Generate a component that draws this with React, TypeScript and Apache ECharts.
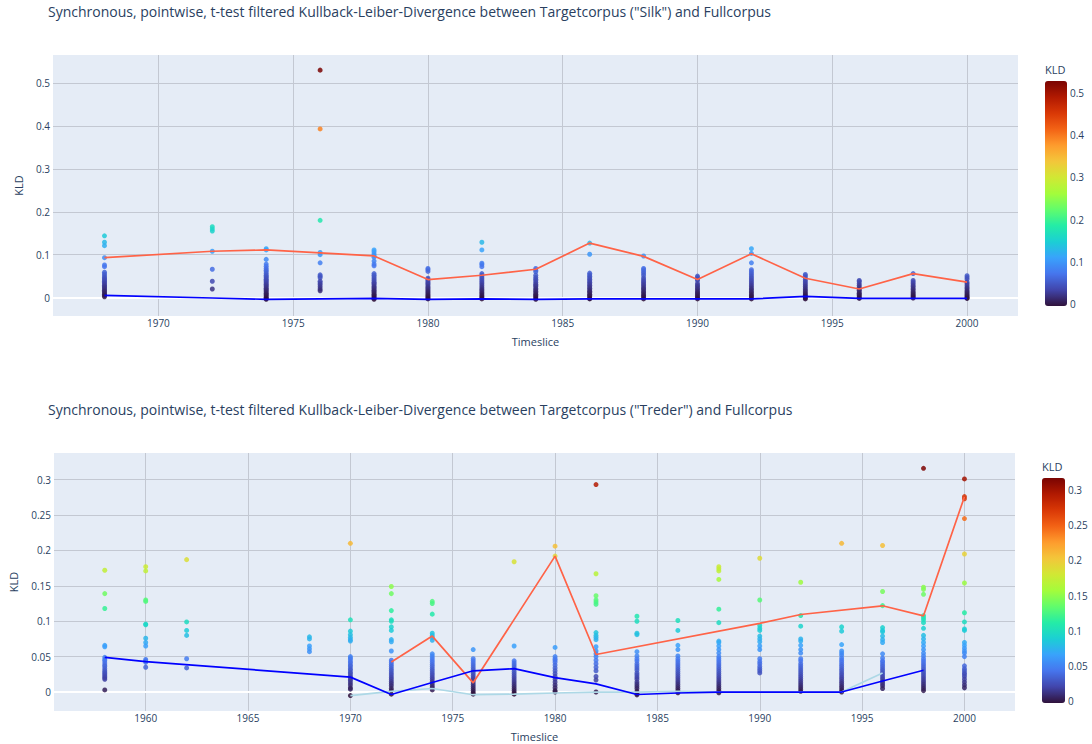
import React, { useEffect, useRef } from "react";
import * as echarts from "echarts";

// ---------- Data: "Silk" ----------
const silkTitle =
  'Synchronous, pointwise, t-test filtered Kullback-Leiber-Divergence between Targetcorpus ("Silk") and Fullcorpus';
const silkYears = [1968, 1972, 1974, 1976, 1978, 1980, 1982, 1984, 1986, 1988, 1990, 1992, 1994, 1996, 1998, 2000];
const silkKld: number[][] = [
  [0.144, 0.129, 0.121, 0.093, 0.076, 0.072, 0.059, 0.055, 0.051, 0.047, 0.044, 0.041, 0.038, 0.035, 0.032, 0.029, 0.026, 0.023, 0.02, 0.017, 0.014, 0.011, 0.008, 0.005, 0.002],
  [0.165, 0.16, 0.155, 0.108, 0.066, 0.038, 0.02],
  [0.114, 0.111, 0.089, 0.078, 0.073, 0.068, 0.064, 0.06, 0.056, 0.052, 0.049, 0.046, 0.043, 0.04, 0.037, 0.034, 0.031, 0.028, 0.025, 0.022, 0.019, 0.016, 0.013, 0.01, 0.007, 0.004, 0.001, -0.002, -0.004],
  [0.53, 0.393, 0.18, 0.105, 0.1, 0.081, 0.053, 0.05, 0.046, 0.038, 0.034, 0.03, 0.025, 0.02, 0.016],
  [0.111, 0.107, 0.102, 0.098, 0.094, 0.085, 0.078, 0.074, 0.056, 0.052, 0.048, 0.044, 0.04, 0.036, 0.033, 0.03, 0.026, 0.023, 0.02, 0.017, 0.014, 0.011, 0.008, 0.005, 0.002, -0.001, -0.004],
  [0.068, 0.065, 0.061, 0.045, 0.042, 0.039, 0.036, 0.033, 0.03, 0.026, 0.023, 0.02, 0.017, 0.014, 0.011, 0.008, 0.005, 0.002, -0.001, -0.003],
  [0.129, 0.111, 0.08, 0.077, 0.072, 0.056, 0.052, 0.048, 0.044, 0.04, 0.036, 0.032, 0.028, 0.024, 0.02, 0.017, 0.013, 0.01, 0.006, 0.003, 0, -0.003],
  [0.068, 0.064, 0.06, 0.052, 0.047, 0.043, 0.039, 0.035, 0.031, 0.028, 0.025, 0.021, 0.018, 0.015, 0.011, 0.008, 0.005, 0.002, -0.001, -0.004],
  [0.127, 0.101, 0.057, 0.053, 0.05, 0.046, 0.043, 0.039, 0.036, 0.032, 0.029, 0.025, 0.022, 0.018, 0.015, 0.012, 0.008, 0.005, 0.002, -0.002, -0.003],
  [0.097, 0.068, 0.065, 0.061, 0.057, 0.052, 0.046, 0.042, 0.038, 0.035, 0.031, 0.028, 0.024, 0.021, 0.018, 0.014, 0.011, 0.007, 0.004, 0.001, -0.003],
  [0.05, 0.047, 0.043, 0.04, 0.033, 0.029, 0.026, 0.022, 0.019, 0.015, 0.012, 0.009, 0.006, 0.003, 0, -0.003],
  [0.114, 0.103, 0.081, 0.065, 0.061, 0.057, 0.053, 0.049, 0.045, 0.041, 0.037, 0.033, 0.029, 0.025, 0.021, 0.018, 0.014, 0.011, 0.007, 0.004, 0.001, -0.003],
  [0.054, 0.051, 0.047, 0.042, 0.038, 0.034, 0.03, 0.026, 0.022, 0.018, 0.015, 0.011, 0.008, 0.005, 0.002, -0.001, -0.003],
  [0.04, 0.037, 0.032, 0.028, 0.024, 0.02, 0.017, 0.013, 0.01, 0.007, 0.004, 0.001, -0.002],
  [0.056, 0.04, 0.036, 0.032, 0.028, 0.025, 0.021, 0.018, 0.014, 0.011, 0.008, 0.005, 0.002, -0.001],
  [0.051, 0.047, 0.043, 0.036, 0.032, 0.028, 0.024, 0.021, 0.017, 0.014, 0.011, 0.008, 0.005, 0.002, -0.001, -0.002],
];
const silkRedLine = [0.093, 0.108, 0.111, 0.104, 0.097, 0.042, 0.052, 0.066, 0.127, 0.096, 0.042, 0.102, 0.045, 0.02, 0.056, 0.036];
const silkBlueLine = [0.005, -0.001, -0.004, -0.003, -0.002, -0.004, -0.003, -0.004, -0.003, -0.003, -0.003, -0.003, 0.003, -0.002, -0.002, -0.002];
const silkColorMin = -0.004;
const silkColorMax = 0.5276;

// ---------- Data: "Treder" ----------
const trederTitle =
  'Synchronous, pointwise, t-test filtered Kullback-Leiber-Divergence between Targetcorpus ("Treder") and Fullcorpus';
const trederYears = [1958, 1960, 1962, 1968, 1970, 1972, 1974, 1976, 1978, 1980, 1982, 1984, 1986, 1988, 1990, 1992, 1994, 1996, 1998, 2000];
const trederKld: number[][] = [
  [0.172, 0.139, 0.118, 0.066, 0.064, 0.049, 0.046, 0.044, 0.041, 0.038, 0.036, 0.033, 0.03, 0.028, 0.026, 0.024, 0.022, 0.02, 0.018, 0.003],
  [0.177, 0.171, 0.13, 0.128, 0.096, 0.095, 0.076, 0.07, 0.065, 0.046, 0.044, 0.042, 0.035],
  [0.187, 0.099, 0.087, 0.08, 0.047, 0.034],
  [0.078, 0.075, 0.065, 0.061, 0.057],
  [0.21, 0.102, 0.086, 0.081, 0.077, 0.074, 0.072, 0.05, 0.048, 0.046, 0.043, 0.041, 0.038, 0.036, 0.033, 0.031, 0.028, 0.026, 0.023, 0.021, 0.018, 0.016, 0.013, 0.01, 0.006, 0.004, -0.005],
  [0.149, 0.139, 0.115, 0.102, 0.1, 0.092, 0.087, 0.074, 0.071, 0.058, 0.045, 0.042, 0.039, 0.036, 0.033, 0.03, 0.027, 0.024, 0.021, 0.018, 0.015, 0.012, 0.009, 0.005, 0.002, -0.003],
  [0.128, 0.125, 0.11, 0.083, 0.08, 0.077, 0.073, 0.054, 0.051, 0.048, 0.045, 0.042, 0.039, 0.036, 0.033, 0.03, 0.027, 0.024, 0.021, 0.018, 0.015, 0.012, 0.009, 0.006, 0.003],
  [0.06, 0.047, 0.044, 0.041, 0.038, 0.035, 0.032, 0.029, 0.026, 0.023, 0.02, 0.017, 0.014, 0.011, 0.008, 0.005, 0.002, -0.001, -0.003],
  [0.184, 0.065, 0.044, 0.041, 0.038, 0.035, 0.032, 0.029, 0.026, 0.023, 0.02, 0.017, 0.014, 0.011, 0.008, 0.005, 0.002, -0.001, -0.003],
  [0.206, 0.192, 0.063, 0.05, 0.047, 0.045, 0.042, 0.038, 0.034, 0.03, 0.026, 0.022, 0.018, 0.014, 0.01, 0.006, 0.002, 0],
  [0.293, 0.167, 0.136, 0.13, 0.127, 0.124, 0.084, 0.08, 0.077, 0.074, 0.064, 0.058, 0.054, 0.05, 0.045, 0.04, 0.035, 0.03, 0.022, 0.017, 0],
  [0.107, 0.1, 0.083, 0.081, 0.057, 0.051, 0.047, 0.044, 0.04, 0.037, 0.034, 0.031, 0.027, 0.024, 0.021, 0.018, 0.014, 0.011, 0.008, 0.005, 0.001, -0.002, -0.004],
  [0.101, 0.087, 0.066, 0.06, 0.051, 0.047, 0.044, 0.041, 0.038, 0.035, 0.032, 0.029, 0.026, 0.023, 0.02, 0.017, 0.014, 0.011, 0.008, 0.005, 0.002, -0.001],
  [0.177, 0.174, 0.171, 0.159, 0.117, 0.098, 0.072, 0.07, 0.065, 0.06, 0.055, 0.05, 0.047, 0.044, 0.041, 0.038, 0.035, 0.032, 0.029, 0.026, 0.023, 0.02, 0.017, 0.014, 0.011, 0.008, 0.005, 0.002, -0.001],
  [0.189, 0.13, 0.094, 0.09, 0.087, 0.079, 0.075, 0.071, 0.065, 0.06, 0.047, 0.043, 0.04, 0.036, 0.033, 0.03, 0.027],
  [0.155, 0.108, 0.093, 0.075, 0.072, 0.066, 0.06, 0.055, 0.047, 0.044, 0.04, 0.037, 0.034, 0.031, 0.028, 0.025, 0.022, 0.019, 0.016, 0.013, 0.01, 0.007, 0.004, 0.001],
  [0.21, 0.092, 0.086, 0.067, 0.058, 0.055, 0.052, 0.048, 0.045, 0.042, 0.039, 0.036, 0.033, 0.03, 0.027, 0.024, 0.021, 0.018, 0.015, 0.012, 0.009, 0.006, 0.003, 0],
  [0.207, 0.142, 0.122, 0.091, 0.087, 0.085, 0.079, 0.074, 0.07, 0.054, 0.048, 0.044, 0.042, 0.039, 0.036, 0.033, 0.03, 0.027, 0.024, 0.021, 0.018, 0.015, 0.012, 0.009, 0.005],
  [0.316, 0.148, 0.145, 0.138, 0.108, 0.105, 0.102, 0.098, 0.09, 0.08, 0.075, 0.07, 0.065, 0.06, 0.055, 0.051, 0.047, 0.044, 0.041, 0.038, 0.035, 0.032, 0.029, 0.026, 0.023, 0.02, 0.017, 0.014, 0.011, 0.008, 0.005, 0.002],
  [0.301, 0.276, 0.273, 0.245, 0.195, 0.154, 0.112, 0.099, 0.089, 0.087, 0.07, 0.066, 0.062, 0.058, 0.055, 0.05, 0.037, 0.033, 0.03, 0.027, 0.025, 0.022, 0.018, 0.014, 0.01, 0.006],
];
const trederRedYears = [1972, 1974, 1976, 1980, 1982, 1990, 1992, 1996, 1998, 2000];
const trederRedLine = [0.0425, 0.079, 0.013, 0.192, 0.053, 0.097, 0.1095, 0.1218, 0.1076, 0.2757];
const trederBlueYears = [1958, 1960, 1970, 1972, 1974, 1976, 1978, 1980, 1982, 1984, 1986, 1988, 1990, 1992, 1994, 1996, 1998];
const trederBlueLine = [0.049, 0.043, 0.021, -0.0035, 0.0135, 0.03, 0.033, 0.0203, 0.0115, -0.0035, -0.0014, 0, 0, 0, 0, 0.0156, 0.0307];
const trederLightYears = [1970, 1972, 1974, 1976, 1978, 1980, 1982, 1984, 1986, 1988, 1990, 1992, 1994, 1996];
const trederLightLine = [-0.0052, 0.001, 0.005, -0.0038, -0.003, -0.0014, 0, 0, 0.001, 0, 0, 0, 0, 0.027];
const trederColorMin = -0.003;
const trederColorMax = 0.3175;

// ---------- Style ----------
const turbo = [
  "#30123b", "#4145ab", "#4675ed", "#39a2fc", "#1bcfd4", "#24eca6", "#61fc6c", "#a4fc3b",
  "#d1e834", "#f3c63a", "#fe9b2d", "#f36315", "#d93806", "#b11901", "#7a0402",
];
const FONT = '"Open Sans", "Noto Sans", sans-serif';
const INK = "#2a3f5f";
const GRIDLINE = "#c3c8d2";
const PLOT_BG = "#e5ecf6";

const points = (years: number[], vals: number[][]) =>
  years.flatMap((y, i) => vals[i].map((v) => [y, v]));
const pairs = (years: number[], vals: number[]) => years.map((y, i) => [y, vals[i]]);

function mainX(gridIndex: number, min: number, max: number) {
  return {
    type: "value",
    gridIndex,
    min,
    max,
    minInterval: 5,
    maxInterval: 5,
    name: "Timeslice",
    nameLocation: "middle",
    nameGap: 20,
    nameTextStyle: { fontFamily: FONT, fontSize: 11, color: INK },
    axisLine: { show: false },
    axisTick: { show: false },
    axisLabel: {
      fontFamily: FONT,
      fontSize: 10,
      color: INK,
      margin: 2,
      showMinLabel: false,
      showMaxLabel: false,
      formatter: (v: number) => String(v),
    },
    splitLine: { show: true, showMinLine: false, showMaxLine: false, lineStyle: { color: GRIDLINE, width: 1 } },
  };
}

function mainY(gridIndex: number, min: number, max: number, step: number, nameGap: number) {
  return {
    type: "value",
    gridIndex,
    min,
    max,
    minInterval: step,
    maxInterval: step,
    name: "KLD",
    nameLocation: "middle",
    nameRotate: 90,
    nameGap,
    nameTextStyle: { fontFamily: FONT, fontSize: 11, color: INK },
    axisLine: { show: false },
    axisTick: { show: false },
    axisLabel: {
      fontFamily: FONT,
      fontSize: 10,
      color: INK,
      margin: 3,
      showMinLabel: false,
      showMaxLabel: false,
      formatter: (v: number) => String(v),
    },
    splitLine: { show: true, showMinLine: false, showMaxLine: false, lineStyle: { color: GRIDLINE, width: 1 } },
  };
}

function barX(gridIndex: number) {
  return { type: "value", gridIndex, show: false, min: 0, max: 1 };
}
function barY(gridIndex: number, min: number, max: number, step: number) {
  return {
    type: "value",
    gridIndex,
    position: "right",
    min,
    max,
    minInterval: step,
    maxInterval: step,
    axisLine: { show: false },
    axisTick: { show: false },
    splitLine: { show: false },
    axisLabel: {
      fontFamily: FONT,
      fontSize: 10,
      color: INK,
      margin: 3,
      showMinLabel: false,
      showMaxLabel: false,
      formatter: (v: number) => String(v),
    },
  };
}

function zeroLine(xAxisIndex: number, yAxisIndex: number) {
  return {
    type: "line",
    xAxisIndex,
    yAxisIndex,
    data: [],
    z: 1,
    silent: true,
    markLine: {
      silent: true,
      z: 1,
      symbol: "none",
      label: { show: false },
      lineStyle: { color: "#ffffff", width: 2, type: "solid" },
      data: [{ yAxis: 0 }],
    },
  };
}

function lineSeries(xAxisIndex: number, yAxisIndex: number, data: number[][], color: string, z: number) {
  return {
    type: "line",
    xAxisIndex,
    yAxisIndex,
    data,
    symbol: "none",
    z,
    silent: true,
    lineStyle: { color, width: 1.7 },
  };
}

function scatterSeries(xAxisIndex: number, yAxisIndex: number, data: number[][]) {
  return {
    type: "scatter",
    xAxisIndex,
    yAxisIndex,
    data,
    symbolSize: 5,
    z: 3,
    itemStyle: { opacity: 0.85 },
  };
}

const titleStyle = (size: number) => ({ fontFamily: FONT, fontSize: size, fontWeight: "normal", color: INK });

const option = {
  animation: false,
  backgroundColor: "#ffffff",
  textStyle: { fontFamily: FONT },
  title: [
    { text: silkTitle, left: 48, top: 4, padding: 0, textStyle: titleStyle(14) },
    { text: trederTitle, left: 48, top: 402, padding: 0, textStyle: titleStyle(14) },
    { text: "KLD", left: 1045, top: 64, padding: 0, textStyle: titleStyle(11) },
    { text: "KLD", left: 1042, top: 461, padding: 0, textStyle: titleStyle(11) },
  ],
  grid: [
    { left: 53, top: 55, width: 965, height: 261, show: true, backgroundColor: PLOT_BG, borderWidth: 0 },
    { left: 53, top: 453, width: 962, height: 258, show: true, backgroundColor: PLOT_BG, borderWidth: 0 },
    { left: 1045, top: 81, width: 22, height: 225 },
    { left: 1042, top: 478, width: 23, height: 225 },
  ],
  xAxis: [mainX(0, 1966.09, 2001.89), mainX(1, 1955.52, 2002.47), barX(2), barX(3)],
  yAxis: [
    mainY(0, -0.0429, 0.5653, 0.1, 29),
    mainY(1, -0.0268, 0.3376, 0.05, 35),
    barY(2, silkColorMin, silkColorMax, 0.1),
    barY(3, trederColorMin, trederColorMax, 0.05),
  ],
  visualMap: [
    {
      type: "continuous",
      seriesIndex: 1,
      dimension: 1,
      min: silkColorMin,
      max: silkColorMax,
      inRange: { color: turbo },
      calculable: false,
      left: 1045,
      top: 81,
      itemWidth: 22,
      itemHeight: 225,
      padding: 0,
      textStyle: { fontSize: 0 },
    },
    {
      type: "continuous",
      seriesIndex: 5,
      dimension: 1,
      min: trederColorMin,
      max: trederColorMax,
      inRange: { color: turbo },
      calculable: false,
      left: 1042,
      top: 478,
      itemWidth: 23,
      itemHeight: 225,
      padding: 0,
      textStyle: { fontSize: 0 },
    },
  ],
  series: [
    zeroLine(0, 0),
    scatterSeries(0, 0, points(silkYears, silkKld)),
    lineSeries(0, 0, pairs(silkYears, silkRedLine), "#ff6347", 4),
    lineSeries(0, 0, pairs(silkYears, silkBlueLine), "#0000ff", 4),
    zeroLine(1, 1),
    scatterSeries(1, 1, points(trederYears, trederKld)),
    lineSeries(1, 1, pairs(trederLightYears, trederLightLine), "#add8e6", 4),
    lineSeries(1, 1, pairs(trederRedYears, trederRedLine), "#ff6347", 4),
    lineSeries(1, 1, pairs(trederBlueYears, trederBlueLine), "#0000ff", 5),
  ],
};

export default function App() {
  const ref = useRef<HTMLDivElement>(null);
  useEffect(() => {
    document.body.style.margin = "0";
    const chart = echarts.init(ref.current as HTMLDivElement, undefined, { renderer: "svg" });
    chart.setOption(option as any);
    return () => chart.dispose();
  }, []);
  return <div ref={ref} style={{ width: 1092, height: 744 }} />;
}
